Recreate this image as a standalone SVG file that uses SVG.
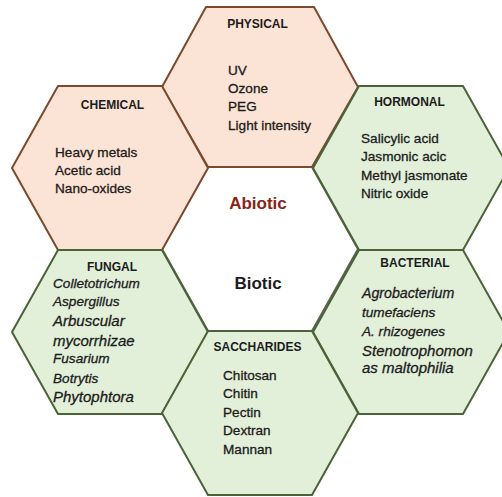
<svg xmlns="http://www.w3.org/2000/svg" width="502" height="497" viewBox="0 0 502 497">
<style>
.hex{stroke-width:2;stroke-linejoin:round}
.ab{fill:#fbe3d5;stroke:#7b4a2c}
.bi{fill:#e2efd9;stroke:#4a6338}
.ctr{fill:#ffffff;stroke:#5a6650}
text{font-family:"Liberation Sans",Arial,sans-serif;fill:#1c1c1c}
.h{font-weight:bold;font-size:12px;text-anchor:middle}
.t{font-size:13.6px;stroke:#1c1c1c;stroke-width:0.3}
.i{font-size:13.6px;font-style:italic;stroke:#1c1c1c;stroke-width:0.3}
.il{font-size:15px;font-style:italic;stroke:#1c1c1c;stroke-width:0.3}
.big{font-weight:bold;font-size:17px;text-anchor:middle}
</style>
<rect width="502" height="497" fill="#ffffff"/>
<g id="center">
<polygon class="hex ctr" points="162,249 208,167 312,167 358,249 312,331 208,331"/>
<text class="big" x="258" y="209" style="fill:#8a2416">Abiotic</text>
<text class="big" x="258" y="289">Biotic</text>
</g>
<g id="physical">
<polygon class="hex ab" points="162,87 206,7 314,7 358,87 312,167 208,167"/>
<text class="h" x="257.5" y="28">PHYSICAL</text>
<text class="t" x="228" y="75">UV</text>
<text class="t" x="228" y="93">Ozone</text>
<text class="t" x="228" y="111">PEG</text>
<text class="t" x="228" y="130">Light intensity</text>
</g>
<g id="chemical">
<polygon class="hex ab" points="12,168 58,86 162,86 208,168 162,250 58,250"/>
<text class="h" x="112.5" y="109">CHEMICAL</text>
<text class="t" x="55" y="157">Heavy metals</text>
<text class="t" x="55" y="175">Acetic acid</text>
<text class="t" x="55" y="193">Nano-oxides</text>
</g>
<g id="hormonal">
<polygon class="hex bi" points="313,168 359,86 463,86 509,168 463,250 359,250"/>
<text class="h" x="409.5" y="106">HORMONAL</text>
<text class="t" x="361" y="143">Salicylic acid</text>
<text class="t" x="361" y="161">Jasmonic acic</text>
<text class="t" x="361" y="180">Methyl jasmonate</text>
<text class="t" x="361" y="198">Nitric oxide</text>
</g>
<g id="fungal">
<polygon class="hex bi" points="12,332 58,250 162,250 208,332 162,414 58,414"/>
<text class="h" x="112" y="271">FUNGAL</text>
<text class="i" x="53" y="288">Colletotrichum</text>
<text class="i" x="53" y="306">Aspergillus</text>
<text class="il" x="53" y="326">Arbuscular</text>
<text class="il" x="53" y="346">mycorrhizae</text>
<text class="i" x="53" y="363">Fusarium</text>
<text class="i" x="53" y="383">Botrytis</text>
<text class="il" x="53" y="402">Phytophtora</text>
</g>
<g id="bacterial">
<polygon class="hex bi" points="313,332 359,250 463,250 509,332 463,414 359,414"/>
<text class="h" x="415" y="267">BACTERIAL</text>
<text class="i" x="362" y="298" style="font-size:14.2px">Agrobacterium</text>
<text class="i" x="362" y="317">tumefaciens</text>
<text class="i" x="362" y="336">A. rhizogenes</text>
<text class="il" x="362" y="356">Stenotrophomon</text>
<text class="il" x="362" y="373">as maltophilia</text>
</g>
<g id="saccharides">
<polygon class="hex bi" points="162,413 208,331 312,331 358,413 312,495 208,495"/>
<text class="h" x="257.5" y="351">SACCHARIDES</text>
<text class="t" x="223" y="380">Chitosan</text>
<text class="t" x="223" y="398">Chitin</text>
<text class="t" x="223" y="417">Pectin</text>
<text class="t" x="223" y="435">Dextran</text>
<text class="t" x="223" y="454">Mannan</text>
</g>
<g id="connectors"></g>
</svg>
